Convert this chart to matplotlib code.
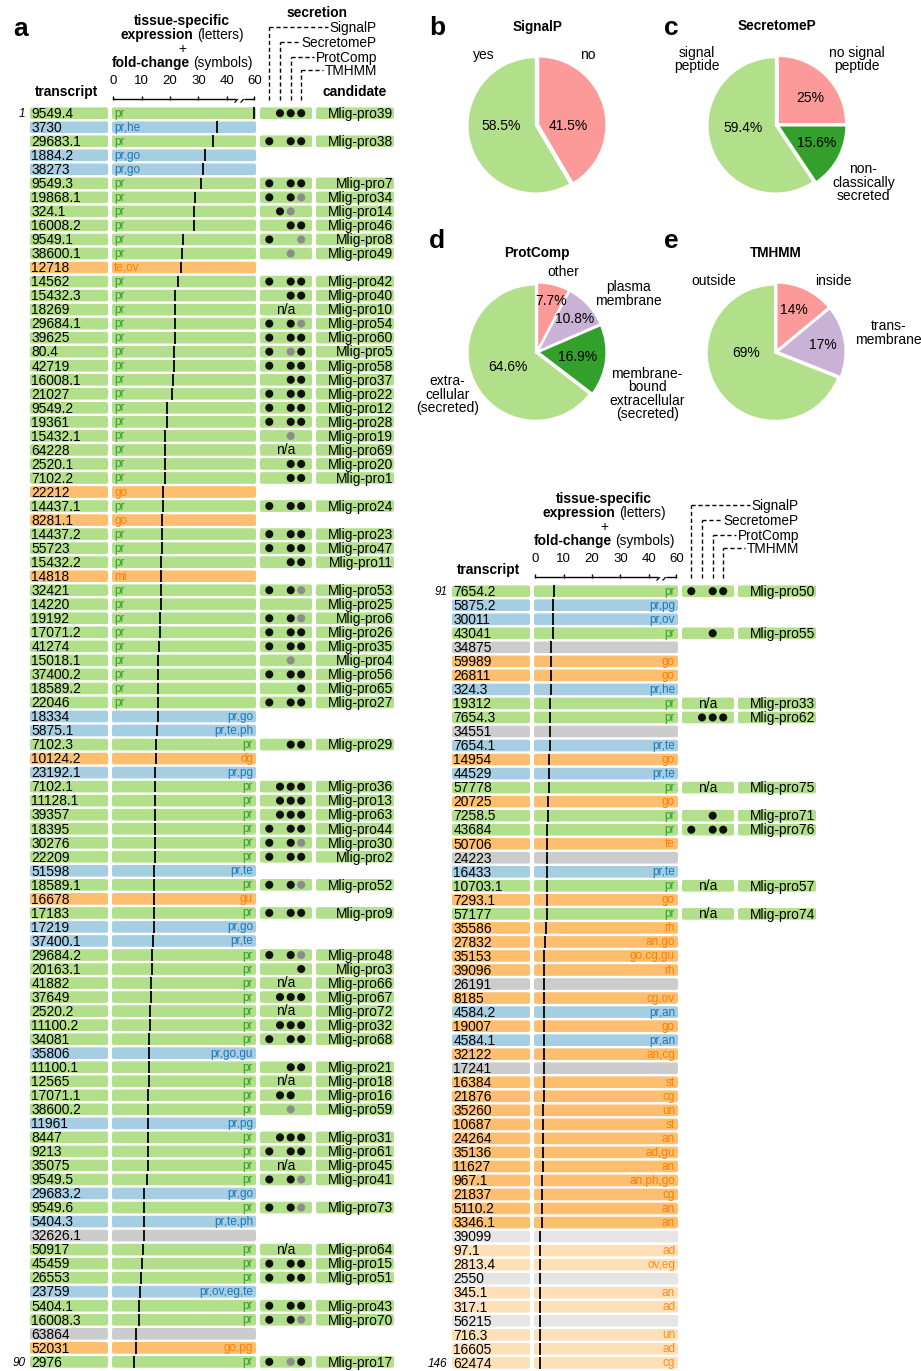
import numpy as np
import matplotlib
matplotlib.use("Agg")
import matplotlib.pyplot as plt
from matplotlib.patches import FancyBboxPatch

plt.rcParams['font.family'] = ['Liberation Sans', 'DejaVu Sans']

W, H = 921, 1371
PITCH = 14.03

# ---------------- panel a, rows 1-90 ----------------
left_transcript = [
    "9549.4", "3730", "29683.1", "1884.2", "38273", "9549.3", "19868.1", "324.1", "16008.2", "9549.1",
    "38600.1", "12718", "14562", "15432.3", "18269", "29684.1", "39625", "80.4", "42719", "16008.1",
    "21027", "9549.2", "19361", "15432.1", "64228", "2520.1", "7102.2", "22212", "14437.1", "8281.1",
    "14437.2", "55723", "15432.2", "14818", "32421", "14220", "19192", "17071.2", "41274", "15018.1",
    "37400.2", "18589.2", "22046", "18334", "5875.1", "7102.3", "10124.2", "23192.1", "7102.1", "11128.1",
    "39357", "18395", "30276", "22209", "51598", "18589.1", "16678", "17183", "17219", "37400.1",
    "29684.2", "20163.1", "41882", "37649", "2520.2", "11100.2", "34081", "35806", "11100.1", "12565",
    "17071.1", "38600.2", "11961", "8447", "9213", "35075", "9549.5", "29683.2", "9549.6", "5404.3",
    "32626.1", "50917", "45459", "26553", "23759", "5404.1", "16008.3", "63864", "52031", "2976"]
left_tissue = [
    "pr", "pr,he", "pr", "pr,go", "pr,go", "pr", "pr", "pr", "pr", "pr",
    "pr", "te,ov", "pr", "pr", "pr", "pr", "pr", "pr", "pr", "pr",
    "pr", "pr", "pr", "pr", "pr", "pr", "pr", "go", "pr", "go",
    "pr", "pr", "pr", "mi", "pr", "pr", "pr", "pr", "pr", "pr",
    "pr", "pr", "pr", "pr,go", "pr,te,ph", "pr", "dg", "pr,pg", "pr", "pr",
    "pr", "pr", "pr", "pr", "pr,te", "pr", "gu", "pr", "pr,go", "pr,te",
    "pr", "pr", "pr", "pr", "pr", "pr", "pr", "pr,go,gu", "pr", "pr",
    "pr", "pr", "pr,pg", "pr", "pr", "pr", "pr", "pr,go", "pr", "pr,te,ph",
    "", "pr", "pr", "pr", "pr,ov,eg,te", "pr", "pr", "", "go,pg", "pr"]
left_fold = [
    60, 36.5, 35.3, 32.4, 31.8, 30.8, 28.8, 28.5, 28.5, 24.6,
    24.2, 23.9, 22.7, 21.9, 21.6, 21.6, 21.6, 21.5, 21.5, 21.0,
    20.6, 18.8, 18.8, 18.4, 18.4, 18.3, 18.1, 17.7, 17.6, 17.3,
    17.2, 17.1, 17.0, 17.0, 16.9, 16.8, 16.5, 16.4, 16.1, 15.9,
    15.8, 15.7, 15.6, 15.6, 15.5, 15.2, 15.2, 14.8, 14.8, 14.7,
    14.7, 14.7, 14.6, 14.6, 14.5, 14.5, 14.4, 14.2, 14.2, 14.1,
    13.6, 13.6, 13.4, 13.3, 12.8, 12.8, 12.7, 12.6, 12.5, 12.5,
    12.4, 12.3, 12.3, 12.2, 12.2, 12.1, 12.0, 11.0, 11.0, 10.9,
    10.9, 10.6, 10.1, 9.6, 9.3, 9.0, 9.0, 8.1, 8.0, 7.3]
left_candidate = [
    "Mlig-pro39", "", "Mlig-pro38", "", "", "Mlig-pro7", "Mlig-pro34", "Mlig-pro14", "Mlig-pro46", "Mlig-pro8",
    "Mlig-pro49", "", "Mlig-pro42", "Mlig-pro40", "Mlig-pro10", "Mlig-pro54", "Mlig-pro60", "Mlig-pro5", "Mlig-pro58", "Mlig-pro37",
    "Mlig-pro22", "Mlig-pro12", "Mlig-pro28", "Mlig-pro19", "Mlig-pro69", "Mlig-pro20", "Mlig-pro1", "", "Mlig-pro24", "",
    "Mlig-pro23", "Mlig-pro47", "Mlig-pro11", "", "Mlig-pro53", "Mlig-pro25", "Mlig-pro6", "Mlig-pro26", "Mlig-pro35", "Mlig-pro4",
    "Mlig-pro56", "Mlig-pro65", "Mlig-pro27", "", "", "Mlig-pro29", "", "", "Mlig-pro36", "Mlig-pro13",
    "Mlig-pro63", "Mlig-pro44", "Mlig-pro30", "Mlig-pro2", "", "Mlig-pro52", "", "Mlig-pro9", "", "",
    "Mlig-pro48", "Mlig-pro3", "Mlig-pro66", "Mlig-pro67", "Mlig-pro72", "Mlig-pro32", "Mlig-pro68", "", "Mlig-pro21", "Mlig-pro18",
    "Mlig-pro16", "Mlig-pro59", "", "Mlig-pro31", "Mlig-pro61", "Mlig-pro45", "Mlig-pro41", "", "Mlig-pro73", "",
    "", "Mlig-pro64", "Mlig-pro15", "Mlig-pro51", "", "Mlig-pro43", "Mlig-pro70", "", "", "Mlig-pro17"]
# SignalP / SecretomeP / ProtComp / TMHMM : 1 = yes, g = weak (grey), 0 = no
left_secretion = [
    "0111", "", "1011", "", "", "1011", "101g", "01g0", "0011", "100g",
    "00g0", "", "1011", "0011", "n/a", "101g", "1011", "10g1", "1011", "0011",
    "1011", "1011", "1011", "00g0", "n/a", "0011", "0011", "", "1011", "",
    "1011", "1011", "0011", "", "101g", "0000", "101g", "1011", "1011", "00g0",
    "1011", "0001", "1011", "", "", "0011", "", "", "0111", "0111",
    "0111", "1011", "101g", "1011", "", "101g", "", "1011", "", "",
    "101g", "0001", "n/a", "0111", "n/a", "0111", "1011", "", "0011", "n/a",
    "0110", "00g0", "", "0111", "1011", "n/a", "101g", "", "101g", "",
    "", "n/a", "1011", "1011", "", "1011", "101g", "", "", "10g1"]

# ---------------- panel a, rows 91-146 ----------------
right_transcript = [
    "7654.2", "5875.2", "30011", "43041", "34875", "59989", "26811", "324.3", "19312", "7654.3",
    "34551", "7654.1", "14954", "44529", "57778", "20725", "7258.5", "43684", "50706", "24223",
    "16433", "10703.1", "7293.1", "57177", "35586", "27832", "35153", "39096", "26191", "8185",
    "4584.2", "19007", "4584.1", "32122", "17241", "16384", "21876", "35260", "10687", "24264",
    "35136", "11627", "967.1", "21837", "5110.2", "3346.1", "39099", "97.1", "2813.4", "2550",
    "345.1", "317.1", "56215", "716.3", "16605", "62474"]
right_tissue = [
    "pr", "pr,pg", "pr,ov", "pr", "", "go", "go", "pr,he", "pr", "pr",
    "", "pr,te", "go", "pr,te", "pr", "go", "pr", "pr", "te", "",
    "pr,te", "pr", "go", "pr", "rh", "an,go", "go,cg,gu", "rh", "", "cg,ov",
    "pr,an", "go", "pr,an", "an,cg", "", "st", "cg", "un", "st", "an",
    "ad,gu", "an", "an,ph,go", "cg", "an", "an", "", "ad", "ov,eg", "",
    "an", "ad", "", "un", "ad", "cg"]
right_fold = [
    6.5, 6.4, 6.2, 6.2, 5.7, 5.4, 5.4, 5.4, 5.3, 5.2,
    5.1, 5.1, 4.9, 4.9, 4.8, 4.6, 4.6, 4.3, 4.3, 4.3,
    4.3, 4.3, 4.3, 4.3, 3.6, 3.4, 3.2, 3.2, 3.1, 3.1,
    3.0, 3.0, 3.0, 3.0, 3.0, 2.9, 2.9, 2.8, 2.7, 2.7,
    2.6, 2.6, 2.5, 2.5, 2.4, 2.4, 1.6, 1.5, 1.5, 1.5,
    1.5, 1.5, 1.5, 1.5, 1.5, 1.5]
right_candidate = [
    "Mlig-pro50", "", "", "Mlig-pro55", "", "", "", "", "Mlig-pro33", "Mlig-pro62",
    "", "", "", "", "Mlig-pro75", "", "Mlig-pro71", "Mlig-pro76", "", "",
    "", "Mlig-pro57", "", "Mlig-pro74"] + [""] * 32
right_secretion = [
    "1011", "", "", "0010", "", "", "", "", "n/a", "0111",
    "", "", "", "", "n/a", "", "0010", "1011", "", "",
    "", "n/a", "", "n/a"] + [""] * 32

# ---------------- panels b-e ----------------
signalp_labels = ["no", "yes"]
signalp_values = [41.5, 58.5]
secretomep_labels = ["no signal\npeptide", "non-\nclassically\nsecreted", "signal\npeptide"]
secretomep_values = [25, 15.6, 59.4]
protcomp_labels = ["other", "plasma\nmembrane", "membrane-\nbound\nextracellular\n(secreted)",
                   "extra-\ncellular\n(secreted)"]
protcomp_values = [7.7, 10.8, 16.9, 64.6]
tmhmm_labels = ["inside", "trans-\nmembrane", "outside"]
tmhmm_values = [14, 17, 69]

GREEN, DKGREEN, PINK, PURPLE = "#b2df8a", "#33a02c", "#fb9a99", "#cab2d6"
BOX = {"green": GREEN, "blue": "#a6cee3", "orange": "#fdbf6f", "grey": "#cccccc",
       "lorange": "#fee0b8", "lgrey": "#e5e5e5"}
TXT = {"green": DKGREEN, "blue": "#1f78b4", "orange": "#ff7f00", "lorange": "#ff8c1a"}
SEC_X = [269.3, 280.0, 290.7, 301.2]
SEC_NAMES = ["SignalP", "SecretomeP", "ProtComp", "TMHMM"]
SEC_Y = [27.3, 42.3, 56.7, 70.3]
FS = 9.9


def kind(tissue, fold):
    if tissue == "":
        k = "grey"
    elif tissue == "pr":
        k = "green"
    elif "pr" in tissue.split(","):
        k = "blue"
    else:
        k = "orange"
    if fold < 2:
        k = "l" + k
    return k


def fwd(x):
    x = np.asarray(x, dtype=float)
    return np.where(x <= 45, x, 45 + (x - 45) * 0.316)


def inv(y):
    y = np.asarray(y, dtype=float)
    return np.where(y <= 45, y, 45 + (y - 45) / 0.316)


fig = plt.figure(figsize=(W / 100, H / 100), dpi=100)
ax_bg = fig.add_axes([0, 0, 1, 1])
ax_bg.set_xlim(0, W)
ax_bg.set_ylim(H, 0)
ax_bg.axis("off")
renderer = fig.canvas.get_renderer()


def centered_mixed(x, y, parts, size=9.9):
    ts = [ax_bg.text(0, y, s, fontsize=size, fontweight=w, va="baseline", ha="left") for s, w in parts]
    ws = [t.get_window_extent(renderer).width for t in ts]
    gap = 0.24 * size * 100 / 72
    x0 = x - (sum(ws) + gap * (len(ws) - 1)) / 2
    for t, w in zip(ts, ws):
        t.set_x(x0)
        x0 += w + gap


def box(ax, x0, x1, y, color):
    ax.add_patch(FancyBboxPatch((x0, y - 0.415), x1 - x0, 0.83,
                                boxstyle="round,pad=0,rounding_size=2",
                                mutation_aspect=1 / PITCH, fc=color, ec="none"))


def draw_panel(first, transcripts, tissues, folds, cands, secs, dx, dy, n_left_labels, full_header):
    n = len(transcripts)
    rows = np.arange(first, first + n)
    top_px = 113.2 + dy
    ylim = (first + (H - top_px) / PITCH, first - top_px / PITCH)

    ax = fig.add_axes([dx / W, 0, 420 / W, 1])
    ax.set_xlim(0, 420)
    ax.set_ylim(*ylim)
    ax.axis("off")

    ax_e = fig.add_axes([(dx + 112) / W, 0, 144 / W, 1])
    ax_e.set_xscale("function", functions=(fwd, inv))
    ax_e.set_xlim(-0.46, 61.9)
    ax_e.set_ylim(*ylim)
    ax_e.axis("off")

    dots_x, dots_y, dots_c = [], [], []
    for k in range(n):
        y = rows[k]
        kd = kind(tissues[k], folds[k])
        box(ax, 30, 108, y, BOX[kd])
        box(ax, 112, 256, y, BOX[kd])
        ax.text(31.2, y + 0.34, transcripts[k], fontsize=FS, va="baseline", ha="left")
        if tissues[k]:
            if k < n_left_labels:
                ax.text(114, y + 0.25, tissues[k], fontsize=8.5, color=TXT[kd], va="baseline", ha="left")
            else:
                ax.text(253, y + 0.25, tissues[k], fontsize=8.5, color=TXT[kd], va="baseline", ha="right")
        if cands[k]:
            box(ax, 260, 312, y, GREEN)
            box(ax, 316, 394, y, GREEN)
            ax.text(393, y + 0.34, cands[k], fontsize=FS, va="baseline", ha="right")
            if secs[k] == "n/a":
                ax.text(285.5, y + 0.3, "n/a", fontsize=FS, va="baseline", ha="center")
            else:
                for j, c in enumerate(secs[k]):
                    if c != "0":
                        dots_x.append(SEC_X[j])
                        dots_y.append(y)
                        dots_c.append("#111111" if c == "1" else "#8c8c8c")
    ax.scatter(dots_x, dots_y, s=34, c=dots_c, linewidths=0, zorder=3)
    ax_e.vlines(folds, rows - 0.415, rows + 0.415, color="#111111", lw=1.4, zorder=3)

    ax.text(25.5, rows[0] + 0.3, str(first), fontsize=8.5, style="italic", ha="right", va="baseline")
    ax.text(25.5, rows[-1] + 0.3, str(first + n - 1), fontsize=8.5, style="italic", ha="right", va="baseline")

    # fold-change ruler with axis break
    ruler_y = 99.3 + dy
    ax_r = fig.add_axes([(dx + 112) / W, (H - ruler_y) / H, 144 / W, 3.5 / H])
    ax_r.set_xscale("function", functions=(fwd, inv))
    ax_r.set_xlim(-0.46, 61.9)
    ax_r.set_ylim(0, 1)
    ax_r.plot([0, 43.3], [0, 0], color="black", lw=1, clip_on=False, solid_capstyle="butt")
    ax_r.plot([48.5, 60], [0, 0], color="black", lw=1, clip_on=False, solid_capstyle="butt")
    for s in ax_r.spines.values():
        s.set_visible(False)
    ax_r.xaxis.tick_top()
    ax_r.set_xticks([0, 10, 20, 30, 40, 60])
    ax_r.set_xticklabels(["0", "10", "20", "30", "40", "60"])
    ax_r.set_yticks([])
    ax_r.tick_params(axis="x", direction="in", length=2.6, width=1, pad=6.3, labelsize=9.5)
    for c in (237.5, 243.5):
        ax_bg.plot([dx + c - 2.5, dx + c + 2.5], [ruler_y + 2.8, ruler_y - 2.8], color="black", lw=0.9)

    # headers
    centered_mixed(dx + 182, dy + 25, [("tissue-specific", "bold")])
    centered_mixed(dx + 182, dy + 38.5, [("expression", "bold"), ("(letters)", "normal")])
    centered_mixed(dx + 182, dy + 52.5, [("+", "normal")])
    centered_mixed(dx + 182, dy + 66.5, [("fold-change", "bold"), ("(symbols)", "normal")])
    ax_bg.text(dx + 66, dy + 96, "transcript", fontsize=9.9, fontweight="bold", ha="center", va="baseline")
    if full_header:
        ax_bg.text(355, dy + 96, "candidate", fontsize=9.9, fontweight="bold", ha="center", va="baseline")
        ax_bg.text(317, dy + 16.7, "secretion", fontsize=9.9, fontweight="bold", ha="center", va="baseline")
    for j, name in enumerate(SEC_NAMES):
        x = dx + SEC_X[j]
        ly = dy + SEC_Y[j]
        t = ax_bg.text(dx + 377, ly + 5, name, fontsize=9.8, ha="right", va="baseline")
        left = t.get_window_extent(renderer).x0
        ax_bg.plot([x, x], [dy + 100, ly], color="black", lw=1, ls=(0, (3, 2)))
        ax_bg.plot([x, left - 1.5], [ly, ly], color="black", lw=1, ls=(0, (3, 2)))


draw_panel(1, left_transcript, left_tissue, left_fold, left_candidate, left_secretion, 0, 0, 43, True)
draw_panel(91, right_transcript, right_tissue, right_fold, right_candidate, right_secretion, 422, 478, 0, False)


def draw_pie(cx, cy, values, labels, colors, label_pos, pct_pos, title, title_y, letter, letter_xy):
    ax = fig.add_axes([(cx - 102) / W, (H - cy - 102) / H, 204 / W, 204 / H])
    ax.pie(values, colors=colors, startangle=90, counterclock=False,
           explode=[0.02] * len(values), wedgeprops=dict(edgecolor="white", linewidth=1.3))
    ax.set_xlim(-1.5, 1.5)
    ax.set_ylim(-1.5, 1.5)
    for lab, (x, y) in zip(labels, label_pos):
        ax.text(x, y, lab, fontsize=10, ha="center", va="center", linespacing=0.95)
    for v, (x, y) in zip(values, pct_pos):
        ax.text(x, y, f"{v:g}%", fontsize=10, ha="center", va="center")
    ax_bg.text(cx, title_y, title, fontsize=9.8, fontweight="bold", ha="center", va="baseline")
    ax_bg.text(letter_xy[0], letter_xy[1], letter, fontsize=19, fontweight="bold", ha="left", va="baseline")


draw_pie(537, 125, signalp_values, signalp_labels, [PINK, GREEN],
         [(0.75, 1.03), (-0.79, 1.03)], [(0.46, -0.01), (-0.53, -0.01)],
         "SignalP", 30.5, "b", (429, 35))
draw_pie(777, 125, secretomep_values, secretomep_labels, [PINK, DKGREEN, GREEN],
         [(1.18, 0.96), (1.27, -0.85), (-1.18, 0.96)], [(0.49, 0.40), (0.59, -0.26), (-0.50, -0.04)],
         "SecretomeP", 30.5, "c", (664, 35))
draw_pie(537, 352, protcomp_values, protcomp_labels, [PINK, PURPLE, DKGREEN, GREEN],
         [(0.38, 1.18), (1.34, 0.85), (1.62, -0.62), (-1.32, -0.63)],
         [(0.20, 0.75), (0.56, 0.49), (0.60, -0.07), (-0.43, -0.22)],
         "ProtComp", 257, "d", (429, 248))
draw_pie(776, 352, tmhmm_values, tmhmm_labels, [PINK, PURPLE, GREEN],
         [(0.85, 1.04), (1.65, 0.28), (-0.91, 1.04)], [(0.26, 0.62), (0.69, 0.10), (-0.44, -0.01)],
         "TMHMM", 257, "e", (664, 248))

ax_bg.text(13, 36, "a", fontsize=19, fontweight="bold", ha="left", va="baseline")

fig.savefig("out.png", dpi=100)
